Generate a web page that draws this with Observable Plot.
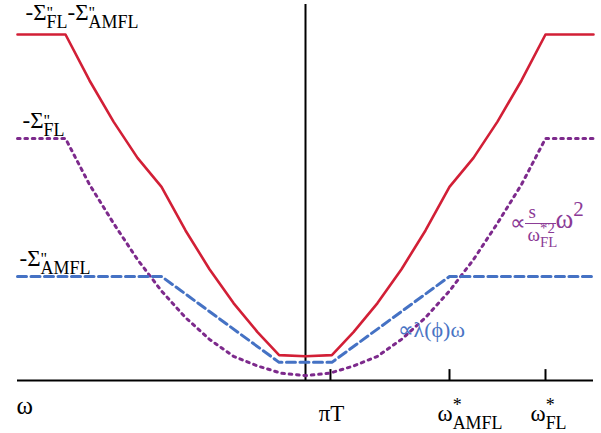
<!DOCTYPE html>
<html>
<head>
<meta charset="utf-8">
<script src="https://cdn.jsdelivr.net/npm/d3@7"></script>
<script src="https://cdn.jsdelivr.net/npm/@observablehq/plot@0.6"></script>
<style>
  body { margin: 0; background: #fff; }
  svg { background: #fff; }
  svg text { font-family: "Liberation Serif", "Times New Roman", serif; }
</style>
</head>
<body>
<script>
// ---- data (ω in units of ω*_FL, Σ'' in units of the Σ''_FL plateau) ----
const wFL = [-1.2,-1.0,-0.9,-0.8,-0.7,-0.6,-0.5,-0.4,-0.3,-0.2,-0.1,0,0.1,0.2,0.3,0.4,0.5,0.6,0.7,0.8,0.9,1.0,1.2];
const sigmaFL = [1.00,1.00,0.81,0.65,0.50,0.37,0.26,0.17,0.10,0.06,0.03,0.02,0.03,0.06,0.10,0.17,0.26,0.37,0.50,0.65,0.81,1.00,1.00];

const wAMFL = [-1.2,-0.6,-0.11,0.11,0.6,1.2];
const sigmaAMFL = [0.43,0.43,0.075,0.075,0.43,0.43];

const wSum = [-1.2,-1.0,-0.9,-0.8,-0.7,-0.6,-0.5,-0.4,-0.3,-0.2,-0.11,0,0.11,0.2,0.3,0.4,0.5,0.6,0.7,0.8,0.9,1.0,1.2];
const sigmaSum = [1.43,1.43,1.24,1.07,0.92,0.80,0.62,0.46,0.32,0.20,0.105,0.10,0.105,0.20,0.32,0.46,0.62,0.80,0.92,1.07,1.24,1.43,1.43];

const tickValues = [0.104, 0.6, 1.0];
const tickLabels = ["πT", "ω^{*}_{AMFL}", "ω^{*}_{FL}"];

const fl = wFL.map((w, i) => ({w, v: sigmaFL[i]}));
const amfl = wAMFL.map((w, i) => ({w, v: sigmaAMFL[i]}));
const sum = wSum.map((w, i) => ({w, v: sigmaSum[i]}));

const RED = "#d21f36", PURPLE = "#7d2a8c", BLUE = "#4572c4";
const PURPLE_T = "#8b3a96", BLUE_T = "#4a74c4";
const SERIF = "Liberation Serif";

const px2x = px => (px - 305) / 240;
const py2y = py => (380 - py) / 242;

const lbl = (s, dx, dy, opts = {}) => Plot.text([s], {
  frameAnchor: "top-left", dx: dx - 17, dy: dy - 4, lineAnchor: "bottom",
  textAnchor: "start", fontFamily: SERIF, fontSize: 22, fill: "black", ...opts
});

const plot = Plot.plot({
  width: 601, height: 433,
  marginLeft: 17, marginRight: 8, marginTop: 4, marginBottom: 53,
  x: {domain: [-1.2, 1.2], axis: null},
  y: {domain: [0, 1.554], axis: null},
  marks: [
    Plot.ruleY([0], {stroke: "black", strokeWidth: 2}),
    Plot.ruleX([0], {stroke: "black", strokeWidth: 2}),
    Plot.ruleX(tickValues, {x: d => d, y1: 0, y2: 0.045, stroke: "black", strokeWidth: 2}),
    Plot.line(fl, {x: "w", y: "v", stroke: PURPLE, strokeWidth: 3, strokeDasharray: "2.6,4.8"}),
    Plot.line(amfl, {x: "w", y: "v", stroke: BLUE, strokeWidth: 3, strokeDasharray: "9,4.5"}),
    Plot.line(sum, {x: "w", y: "v", stroke: RED, strokeWidth: 2.6}),
    // series labels
    lbl("-Σ~{\"}_{FL}-Σ~{\"}_{AMFL}", 25, 19, {fontSize: 23}),
    lbl("-Σ~{\"}_{FL}", 22, 127, {fontSize: 23}),
    lbl("-Σ~{\"}_{AMFL}", 19, 265, {fontSize: 23}),
    // axis labels
    lbl("ω", 16, 413, {fontSize: 25}),
    lbl(tickLabels[0], 331, 420, {textAnchor: "middle", fontSize: 23}),
    lbl(tickLabels[1], 437, 420, {fontSize: 23}),
    lbl(tickLabels[2], 530, 420, {fontSize: 23}),
    // annotations
    lbl("∝λ(ϕ)ω", 397, 336, {fill: BLUE_T, fontSize: 22}),
    lbl("∝", 509, 229, {fill: PURPLE_T, fontSize: 22}),
    lbl("s", 528, 217, {fill: PURPLE_T, fontSize: 19}),
    Plot.ruleY([py2y(223)], {x1: px2x(525), x2: px2x(556), stroke: PURPLE_T, strokeWidth: 1}),
    lbl("ω^{*2}_{FL}", 527, 240, {fill: PURPLE_T, fontSize: 19}),
    lbl("ω^{2}", 555, 227, {fill: PURPLE_T, fontSize: 27})
  ]
});
document.body.appendChild(plot);

// rich text: ^{..} superscripts, _{..} subscripts, ~{..} small raised marks (primes)
function parse(s) {
  const re = /([\^_~])\{([^}]*)\}/g, segs = [];
  let last = 0, m;
  while ((m = re.exec(s))) {
    if (m.index > last) segs.push({k: "n", t: s.slice(last, m.index)});
    segs.push({k: m[1] === "^" ? "sup" : m[1] === "_" ? "sub" : "prime", t: m[2]});
    last = re.lastIndex;
  }
  if (last < s.length) segs.push({k: "n", t: s.slice(last)});
  return segs;
}
d3.select(plot).selectAll("text").each(function () {
  const s = this.textContent;
  if (!/[\^_~]\{/.test(s)) return;
  const fs = parseFloat(getComputedStyle(this).fontSize);
  const segs = parse(s);
  this.textContent = "";
  let cur = 0, prev = null, prevW = 0;
  for (const seg of segs) {
    const ts = document.createElementNS("http://www.w3.org/2000/svg", "tspan");
    this.appendChild(ts);
    const target = seg.k === "sup" ? -0.42 * fs : seg.k === "sub" ? 0.36 * fs : seg.k === "prime" ? -0.08 * fs : 0;
    if (target - cur) ts.setAttribute("dy", target - cur);
    cur = target;
    if (seg.k !== "n") ts.setAttribute("font-size", (seg.k === "prime" ? 0.7 : 0.78) * fs);
    if (seg.k === "sub" && prev && prev.k !== "n") ts.setAttribute("dx", -prevW);
    ts.textContent = seg.t;
    prevW = ts.getComputedTextLength();
    prev = seg;
  }
});
</script>
</body>
</html>
